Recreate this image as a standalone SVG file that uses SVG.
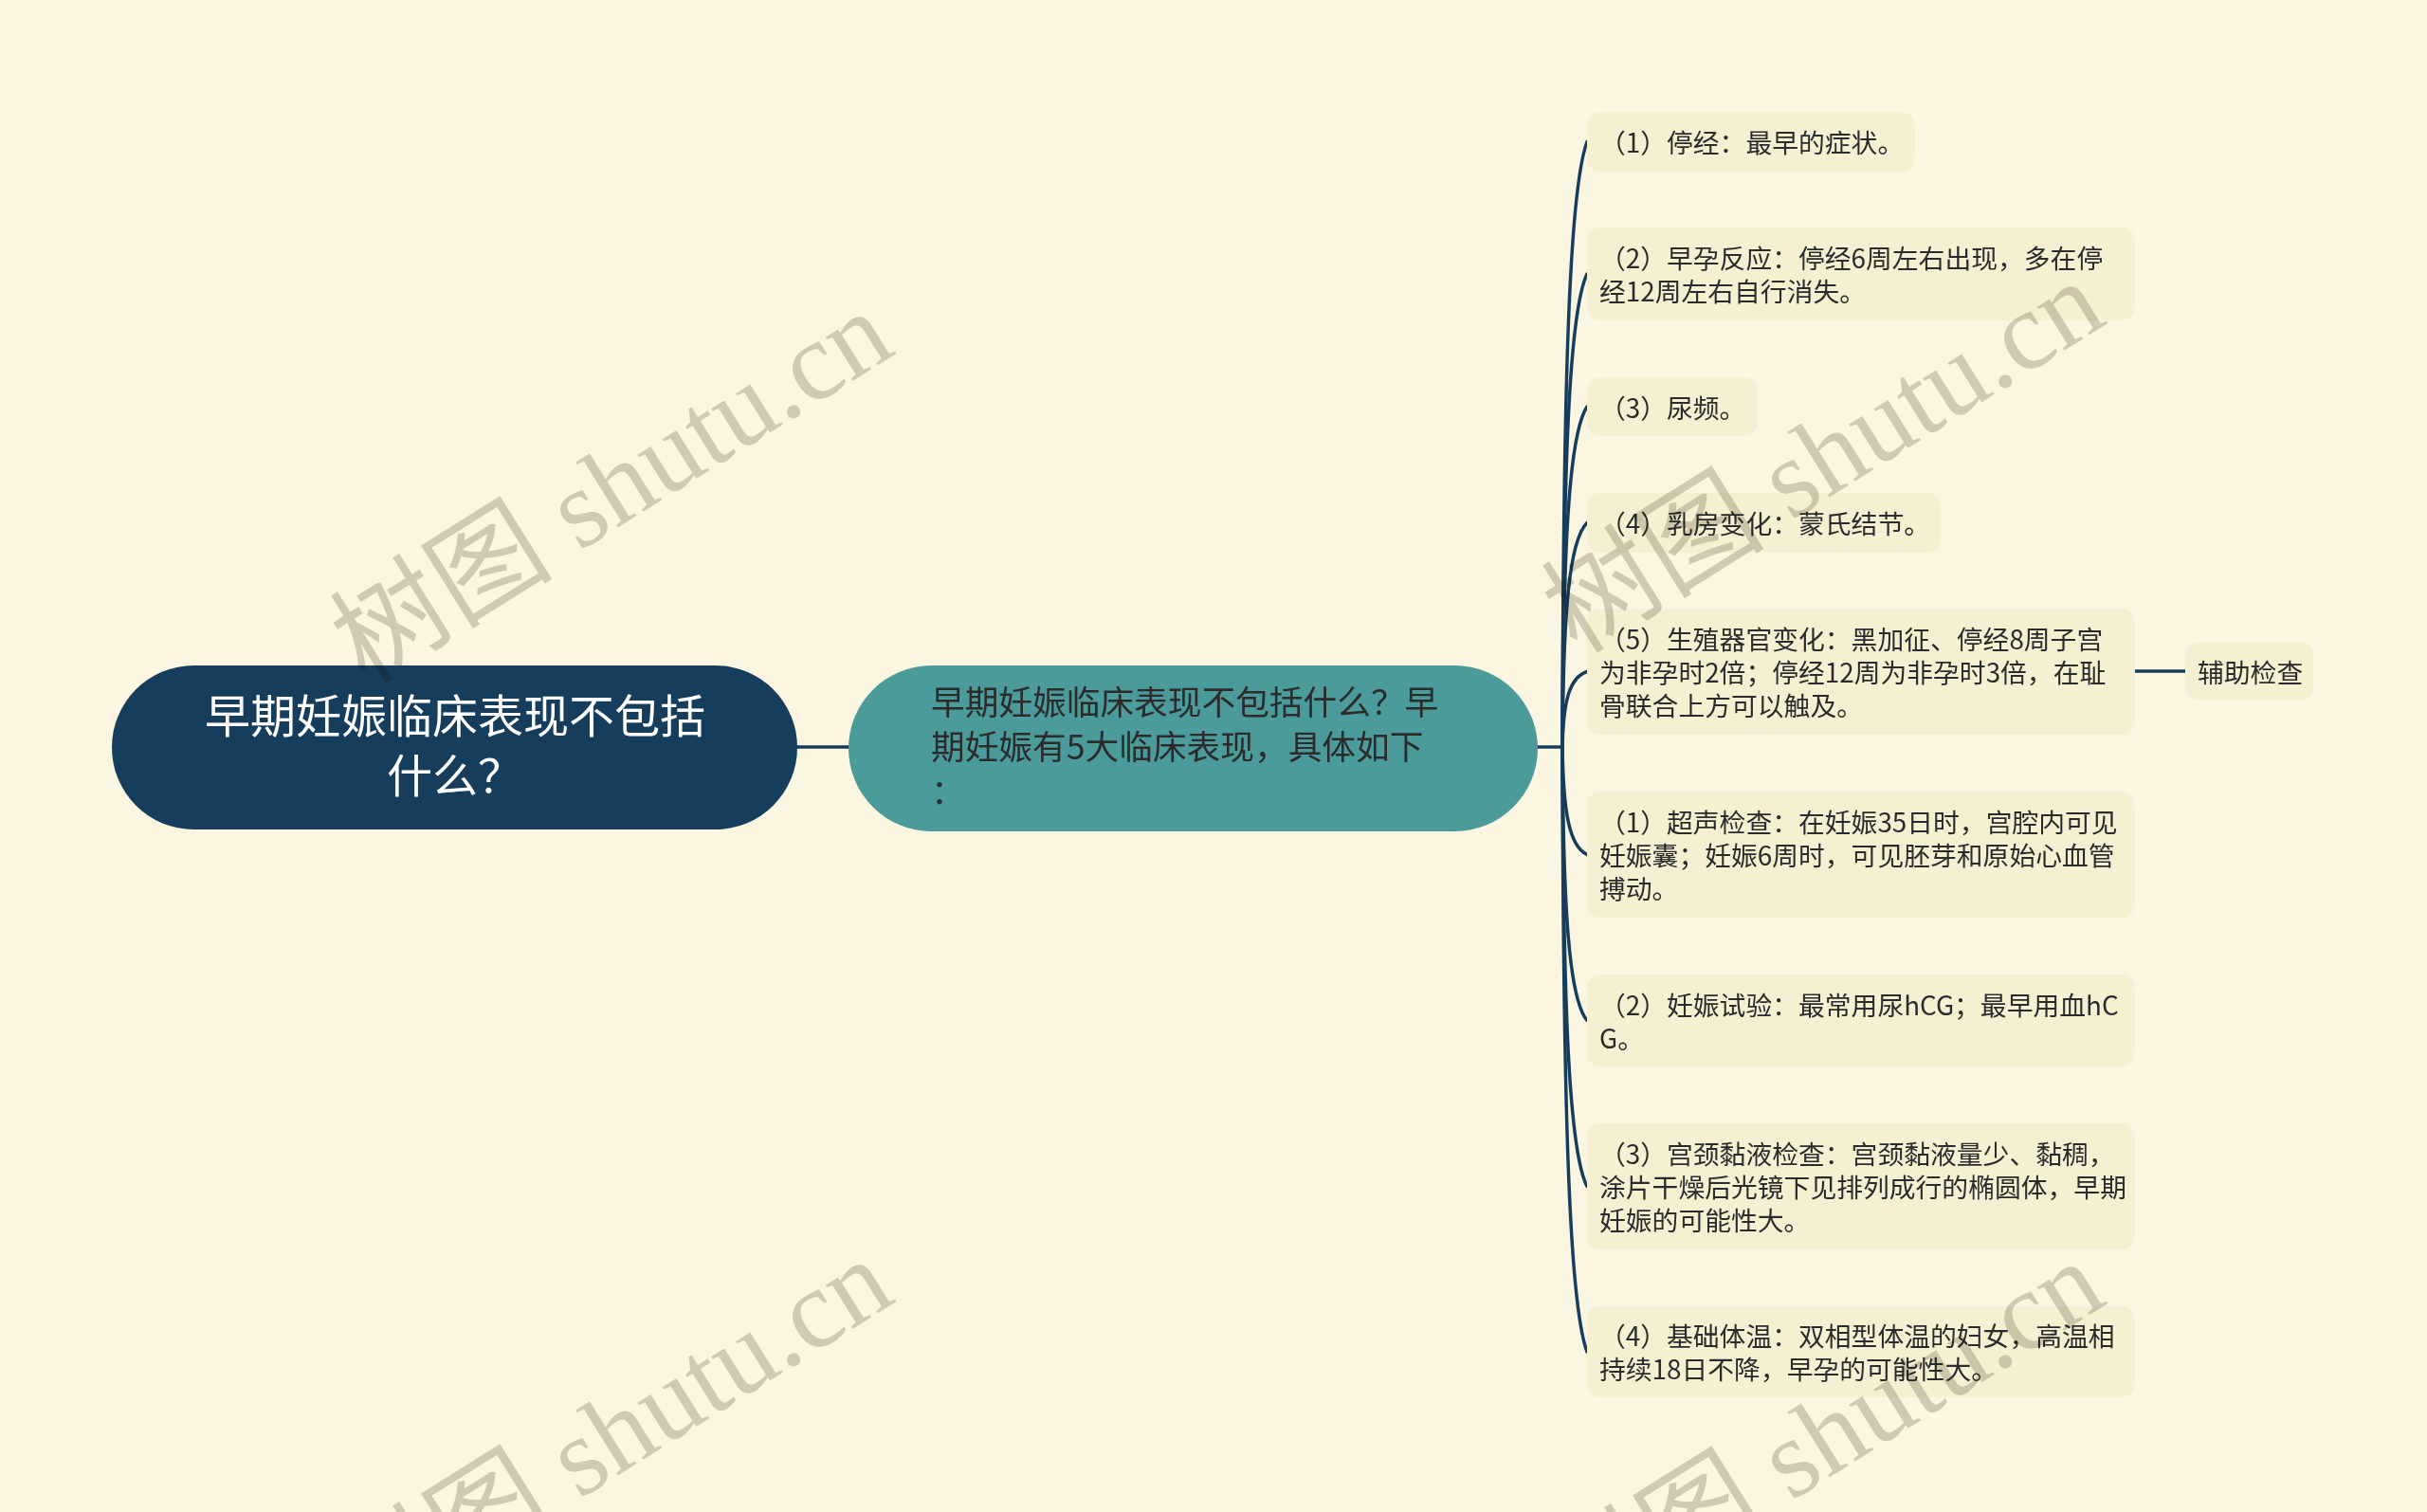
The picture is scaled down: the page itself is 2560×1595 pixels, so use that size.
<svg xmlns="http://www.w3.org/2000/svg" width="2560" height="1595" viewBox="0 0 2560 1595">
<style>
.bg{fill:#FBF6E1}
.conn{fill:none;stroke:#173D5C;stroke-width:3.5;stroke-linecap:round}
.leaf{fill:#F6F0D3}
.lt{font-family:"Noto Sans CJK SC","Noto Sans",sans-serif;font-size:27.8px;fill:#2b2b2b}
.rt{font-family:"Noto Sans CJK SC","Noto Sans",sans-serif;font-size:48px;fill:#ffffff;text-anchor:middle}
.ct{font-family:"Noto Sans CJK SC","Noto Sans",sans-serif;font-size:35.7px;fill:#2b2b2b}
.wm{font-family:"Liberation Serif","Noto Sans CJK SC",serif;font-size:118px;fill:#d4d2cc;text-anchor:end;mix-blend-mode:multiply}
</style>
<rect class="bg" x="0" y="0" width="2560" height="1595"/>

<g id="connectors">
<path class="conn" d="M841 788 H895"/>
<path class="conn" d="M1622 788 H1648"/>
<path class="conn" d="M1648 788 C1649 405,1655 200.6,1674 149.5"/>
<path class="conn" d="M1648 788 C1649 489.6,1655 328.9,1674 289"/>
<path class="conn" d="M1648 788 C1649 572.6,1655 457.7,1674 429"/>
<path class="conn" d="M1648 788 C1649 646.1,1655 570.4,1674 551.5"/>
<path class="conn" d="M1648 788 C1649 740.3,1655 714.9,1674 708.5"/>
<path class="conn" d="M1648 788 C1649 856.1,1655 892.4,1674 901.5"/>
<path class="conn" d="M1648 788 C1649 961.1,1655 1053.4,1674 1076.5"/>
<path class="conn" d="M1648 788 C1649 1066.1,1655 1214.4,1674 1251.5"/>
<path class="conn" d="M1648 788 C1649 1170.8,1655 1375,1674 1426"/>
<path class="conn" d="M2252 708 H2305"/>
</g>

<g id="root">
<rect x="118" y="702" width="723" height="173" rx="86.5" fill="#173D5C"/>
<text class="rt" x="480" y="773">早期妊娠临床表现不包括</text>
<text class="rt" x="480" y="836">什么？</text>
</g>

<g id="center">
<rect x="895" y="702" width="727" height="175" rx="87.5" fill="#4C9B9B"/>
<text class="ct" x="982" y="754">早期妊娠临床表现不包括什么？早</text>
<text class="ct" x="982" y="801">期妊娠有5大临床表现，具体如下</text>
<text class="ct" x="982" y="848">：</text>
</g>

<g id="leaf1">
<rect class="leaf" x="1674" y="118" width="346" height="63" rx="14"/>
<text class="lt" x="1687" y="161">（1）停经：最早的症状。</text>
</g>
<g id="leaf2">
<rect class="leaf" x="1674" y="240" width="578" height="98" rx="14"/>
<text class="lt" x="1687" y="283">（2）早孕反应：停经6周左右出现，多在停</text>
<text class="lt" x="1687" y="318">经12周左右自行消失。</text>
</g>
<g id="leaf3">
<rect class="leaf" x="1674" y="398" width="180" height="62" rx="14"/>
<text class="lt" x="1687" y="440.5">（3）尿频。</text>
</g>
<g id="leaf4">
<rect class="leaf" x="1674" y="520" width="373" height="63" rx="14"/>
<text class="lt" x="1687" y="563">（4）乳房变化：蒙氏结节。</text>
</g>
<g id="leaf5">
<rect class="leaf" x="1674" y="642" width="578" height="133" rx="14"/>
<text class="lt" x="1687" y="685">（5）生殖器官变化：黑加征、停经8周子宫</text>
<text class="lt" x="1687" y="720">为非孕时2倍；停经12周为非孕时3倍，在耻</text>
<text class="lt" x="1687" y="755">骨联合上方可以触及。</text>
</g>
<g id="leaf5-child">
<rect class="leaf" x="2305" y="677" width="135" height="62" rx="14"/>
<text class="lt" x="2318" y="719.5">辅助检查</text>
</g>
<g id="leaf6">
<rect class="leaf" x="1674" y="835" width="578" height="133" rx="14"/>
<text class="lt" x="1687" y="878">（1）超声检查：在妊娠35日时，宫腔内可见</text>
<text class="lt" x="1687" y="913">妊娠囊；妊娠6周时，可见胚芽和原始心血管</text>
<text class="lt" x="1687" y="948">搏动。</text>
</g>
<g id="leaf7">
<rect class="leaf" x="1674" y="1028" width="578" height="97" rx="14"/>
<text class="lt" x="1687" y="1070.5">（2）妊娠试验：最常用尿hCG；最早用血hC</text>
<text class="lt" x="1687" y="1105.5">G。</text>
</g>
<g id="leaf8">
<rect class="leaf" x="1674" y="1185" width="578" height="133" rx="14"/>
<text class="lt" x="1687" y="1228">（3）宫颈黏液检查：宫颈黏液量少、黏稠，</text>
<text class="lt" x="1687" y="1263">涂片干燥后光镜下见排列成行的椭圆体，早期</text>
<text class="lt" x="1687" y="1298">妊娠的可能性大。</text>
</g>
<g id="leaf9">
<rect class="leaf" x="1674" y="1378" width="578" height="96" rx="14"/>
<text class="lt" x="1687" y="1420">（4）基础体温：双相型体温的妇女，高温相</text>
<text class="lt" x="1687" y="1455">持续18日不降，早孕的可能性大。</text>
</g>

<g id="watermarks">
<text class="wm" transform="translate(947 372) rotate(-32)">树图 shutu.cn</text>
<text class="wm" transform="translate(2225 340) rotate(-32)">树图 shutu.cn</text>
<text class="wm" transform="translate(947 1372) rotate(-32)">树图 shutu.cn</text>
<text class="wm" transform="translate(2225 1374) rotate(-32)">树图 shutu.cn</text>
</g>
</svg>
